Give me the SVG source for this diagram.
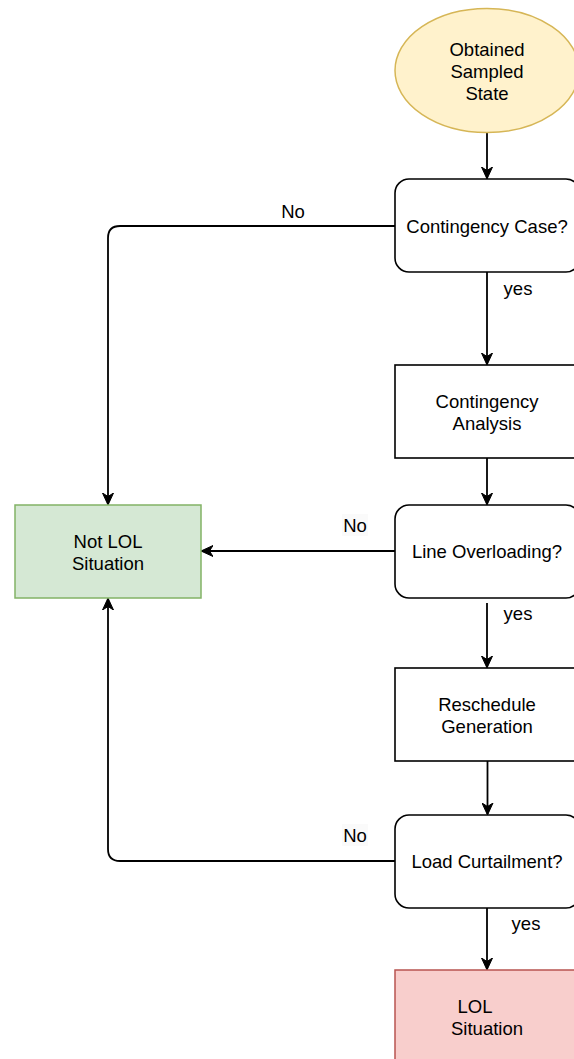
<svg xmlns="http://www.w3.org/2000/svg" width="574" height="1059" viewBox="0 0 574 1059">
<defs>
<style>
.t{font-family:"Liberation Sans",Arial,sans-serif;font-size:18.5px;fill:#000;text-anchor:middle}
.box{fill:#fff;stroke:#000;stroke-width:1.6}
.e{fill:none;stroke:#000;stroke-width:1.8}
</style>
<marker id="ah" viewBox="0 0 12 12" refX="11" refY="6" markerWidth="12" markerHeight="12" markerUnits="userSpaceOnUse" orient="auto">
<path d="M0,0.5 L12,6 L0,11.5 L3.5,6 Z" fill="#000" stroke="#000" stroke-width="1"/>
</marker>
</defs>
<rect width="574" height="1059" fill="#fff"/>
<g id="connectors">
<path class="e" d="M487 133 V178" marker-end="url(#ah)"/>
<path class="e" d="M487 272 V364" marker-end="url(#ah)"/>
<path class="e" d="M487 458 V504" marker-end="url(#ah)"/>
<path class="e" d="M487 603 V667" marker-end="url(#ah)"/>
<path class="e" d="M487.5 761 V814" marker-end="url(#ah)"/>
<path class="e" d="M487 908 V969" marker-end="url(#ah)"/>
<path class="e" d="M395 226 H120 Q108 226 108 238 V504" marker-end="url(#ah)"/>
<path class="e" d="M395 551 H202" marker-end="url(#ah)"/>
<path class="e" d="M395 861 H120 Q108 861 108 849 V599" marker-end="url(#ah)"/>
<text class="t" x="293" y="217.5">No</text>
<text class="t" x="518" y="295">yes</text>
<rect x="342" y="514" width="26" height="22" fill="#fafafa"/>
<text class="t" x="355" y="531.5">No</text>
<text class="t" x="518" y="620">yes</text>
<rect x="342" y="824" width="26" height="22" fill="#fafafa"/>
<text class="t" x="355" y="841.5">No</text>
<text class="t" x="526" y="930">yes</text>
</g>
<g id="start">
<ellipse cx="487" cy="70.5" rx="92" ry="62" fill="#fff2cc" stroke="#d6b656" stroke-width="1.5"/>
<text class="t" x="487" y="56">Obtained</text>
<text class="t" x="487" y="78">Sampled</text>
<text class="t" x="487" y="100">State</text>
</g>
<g id="contingency-case">
<rect class="box" x="395" y="179" width="185" height="93" rx="14"/>
<text class="t" x="487" y="232.5">Contingency Case?</text>
</g>
<g id="contingency-analysis">
<rect class="box" x="395" y="365" width="185" height="93"/>
<text class="t" x="487" y="408">Contingency</text>
<text class="t" x="487" y="430">Analysis</text>
</g>
<g id="not-lol">
<rect x="15" y="505" width="186" height="93" fill="#d5e8d4" stroke="#82b366" stroke-width="1.5"/>
<text class="t" x="108" y="548">Not LOL</text>
<text class="t" x="108" y="570">Situation</text>
</g>
<g id="line-overloading">
<rect class="box" x="395" y="505" width="185" height="93" rx="14"/>
<text class="t" x="487" y="557.5">Line Overloading?</text>
</g>
<g id="reschedule">
<rect class="box" x="395" y="668" width="185" height="93"/>
<text class="t" x="487" y="711">Reschedule</text>
<text class="t" x="487" y="733">Generation</text>
</g>
<g id="load-curtailment">
<rect class="box" x="395" y="815" width="185" height="93" rx="14"/>
<text class="t" x="487" y="867.5">Load Curtailment?</text>
</g>
<g id="lol">
<rect x="395" y="970" width="185" height="100" fill="#f8cecc" stroke="#b85450" stroke-width="1.5"/>
<text class="t" x="475" y="1013">LOL</text>
<text class="t" x="487" y="1035">Situation</text>
</g>
</svg>
